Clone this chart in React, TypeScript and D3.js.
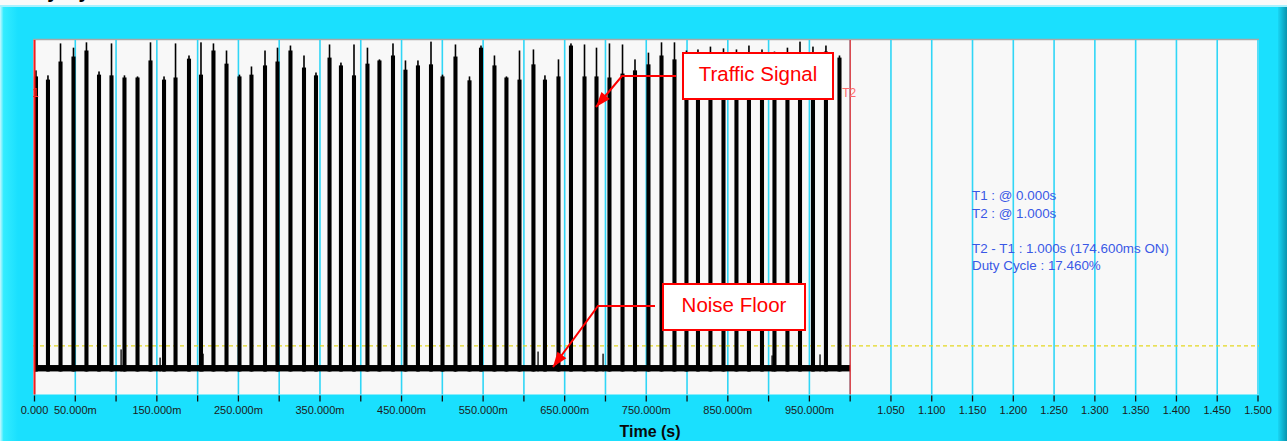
import React from "react";
import * as d3 from "d3";

// ---- data ----
const pulseTimesMs = [
  1.8, 16.5, 31.9, 47.8, 63.7, 79.1, 94.4, 110.3, 126.3, 142.2, 158.8, 172.9, 189.4, 204.1, 219.4, 235.4,
  251.3, 266.0, 282.6, 297.9, 313.8, 330.4, 345.1, 361.7, 375.7, 391.7, 408.2, 422.9, 439.5, 454.8, 470.1, 486.1,
  500.2, 516.1, 533.3, 547.4, 563.9, 578.6, 594.6, 611.7, 625.8, 642.4, 657.7, 674.3, 689.0, 704.9, 720.9, 736.2,
  752.7, 768.7, 784.6, 799.3, 813.4, 828.7, 844.7, 860.6, 875.9, 891.9, 907.2, 923.1, 938.5, 954.4, 970.3, 986.9,
];
const pulsePeak = [
  91.3, 89.9, 98.9, 97.7, 99.2, 91.0, 98.9, 89.9, 89.6, 99.2, 89.6, 98.9, 95.5, 99.2, 98.9, 96.9,
  90.1, 92.4, 96.9, 97.7, 98.3, 95.5, 90.7, 98.6, 93.5, 98.6, 97.7, 94.4, 98.9, 94.1, 94.1, 99.4,
  90.1, 98.6, 89.6, 98.3, 95.5, 89.6, 96.9, 97.2, 89.9, 94.4, 98.9, 98.6, 97.7, 98.9, 98.6, 94.4,
  96.3, 99.2, 99.2, 96.9, 97.2, 98.0, 97.5, 97.2, 98.3, 97.2, 96.6, 97.7, 99.4, 98.0, 98.3, 95.5,
];
const pulseBody = [
  89.6, 88.7, 93.8, 95.2, 96.9, 90.1, 89.9, 89.3, 89.3, 94.1, 88.7, 89.3, 94.6, 90.1, 96.9, 93.2,
  89.6, 90.1, 92.7, 93.8, 96.9, 92.1, 89.9, 94.9, 92.7, 89.9, 93.2, 94.1, 95.5, 91.5, 92.7, 93.0,
  89.6, 95.2, 88.5, 97.7, 92.7, 89.3, 88.7, 93.0, 88.7, 89.6, 98.3, 89.6, 89.6, 89.3, 90.4, 91.3,
  93.0, 95.5, 94.4, 93.8, 91.5, 94.4, 91.0, 94.9, 90.1, 93.2, 91.5, 93.8, 95.8, 92.1, 96.6, 94.9,
];
const pulseWidthMs = 5.0;
const noiseSpikeTimesMs = [106.1, 153.9, 206.6, 515.6, 617.3, 697.0, 904.2, 963.0];
const noiseSpikeLevels = [12.7, 10.4, 11.5, 9.9, 12.1, 11.5, 11.0, 11.3];
const noiseFloorLow = 6.5;
const noiseFloorHigh = 8.3;
const thresholdLevel = 13.7;
const cursorT1 = 0.0;
const cursorT2 = 1.0;
const tickLabels = [
  "0.000", "50.000m", "", "150.000m", "", "250.000m", "", "350.000m", "", "450.000m", "",
  "550.000m", "", "650.000m", "", "750.000m", "", "850.000m", "", "950.000m", "",
  "1.050", "1.100", "1.150", "1.200", "1.250", "1.300", "1.350", "1.400", "1.450", "1.500",
];
const infoLines = [
  "T1 : @ 0.000s",
  "T2 : @ 1.000s",
  "",
  "T2 - T1 : 1.000s (174.600ms ON)",
  "Duty Cycle : 17.460%",
];

const W = 1287;
const H = 441;
const FONT = "'Liberation Sans', Arial, sans-serif";

export default function App() {
  const x = d3.scaleLinear().domain([0, 1.5]).range([34.5, 1258]);
  const y = d3.scaleLinear().domain([0, 100]).range([394.5, 39.5]);
  const tickStep = 0.05;
  const ticks = tickLabels.map((_, i) => i * tickStep);
  const pw = x(pulseWidthMs / 1000) - x(0);
  const floorY = y(noiseFloorLow);

  const arrow = (pts: [number, number][]) => {
    const line = d3.line()(pts) as string;
    const [tx, ty] = pts[pts.length - 1];
    const [px, py] = pts[pts.length - 2];
    const ang = Math.atan2(ty - py, tx - px);
    const L = 15, hw = 5.5;
    const bx = tx - L * Math.cos(ang), by = ty - L * Math.sin(ang);
    const head = [
      [tx, ty],
      [bx + hw * Math.sin(ang), by - hw * Math.cos(ang)],
      [bx - hw * Math.sin(ang), by + hw * Math.cos(ang)],
    ];
    return (
      <g>
        <path d={line} fill="none" stroke="#ff0000" strokeWidth={2} />
        <path d={d3.line()(head as [number, number][]) + "Z"} fill="#ff0000" />
      </g>
    );
  };

  return (
    <svg width={W} height={H} style={{ position: "absolute", left: 0, top: 0, fontFamily: FONT }}>
      <defs>
        <linearGradient id="leftEdge" x1="0" x2="1" y1="0" y2="0">
          <stop offset="0" stopColor="#c8f8ff" />
          <stop offset="0.2" stopColor="#34ecff" />
          <stop offset="1" stopColor="#1ae0fe" />
        </linearGradient>
        <linearGradient id="rightEdge" x1="0" x2="1" y1="0" y2="0">
          <stop offset="0" stopColor="#18d6f4" />
          <stop offset="1" stopColor="#0a94ae" />
        </linearGradient>
        <clipPath id="plotClip">
          <rect x={33} y={39.5} width={1226} height={355} />
        </clipPath>
      </defs>
      {/* background panel */}
      <rect x={0} y={0} width={W} height={H} fill="#fafafa" />
      <text x={14} y={-2.5} fontSize={20} fontWeight="bold" fill="#000">Duty Cycle</text>
      <rect x={0} y={5} width={W} height={H - 5} fill="#a8f2ff" />
      <rect x={0} y={7} width={W} height={H - 7} fill="#1ae0fe" />
      <rect x={0} y={7} width={18} height={H - 7} fill="url(#leftEdge)" />
      <rect x={1278} y={7} width={9} height={H - 7} fill="url(#rightEdge)" />

      {/* plot area */}
      <rect x={33} y={39.5} width={1226} height={355} fill="#f8f8f8" />
      <line x1={33} x2={1259} y1={39.5} y2={39.5} stroke="#a8a8a8" strokeWidth={1.5} />

      {/* grid */}
      {ticks.map((t, i) => (
        <line key={"g" + i} x1={x(t)} x2={x(t)} y1={40} y2={394.5} stroke="#30d6f6" strokeWidth={1.6} />
      ))}

      <g clipPath="url(#plotClip)">
        {/* threshold */}
        <line x1={33} x2={1259} y1={y(thresholdLevel)} y2={y(thresholdLevel)} stroke="#e4d820" strokeWidth={1.1} strokeDasharray="4,3" />
        {/* noise floor */}
        <rect x={x(cursorT1)} y={y(noiseFloorHigh)} width={x(cursorT2) - x(cursorT1)} height={y(noiseFloorLow) - y(noiseFloorHigh)} fill="#000" />
        {noiseSpikeTimesMs.map((t, i) => (
          <rect key={"n" + i} x={x(t / 1000) - 0.6} y={y(noiseSpikeLevels[i])} width={1.3} height={floorY - y(noiseSpikeLevels[i])} fill="#000" />
        ))}
        {/* pulses */}
        {pulseTimesMs.map((t, i) => {
          const cx = x(t / 1000);
          return (
            <g key={"p" + i}>
              <rect x={cx - pw / 2} y={y(pulseBody[i])} width={pw} height={floorY - y(pulseBody[i])} fill="#000" />
              <rect x={cx - 0.8} y={y(pulsePeak[i])} width={1.6} height={floorY - y(pulsePeak[i])} fill="#000" />
            </g>
          );
        })}
        {/* cursors */}
        <text x={25} y={97} fontSize={12} fill="#ff3030">T1</text>
      </g>
      <line x1={x(cursorT1)} x2={x(cursorT1)} y1={40} y2={394.5} stroke="#ff1a1a" strokeWidth={2} />
      <line x1={x(cursorT2)} x2={x(cursorT2)} y1={40} y2={394.5} stroke="#ff2a2a" strokeWidth={1.3} />
      <text x={x(cursorT2) - 8} y={97} fontSize={12} fill="#ff6a6a">T2</text>

      {/* info text */}
      {infoLines.map((s, i) => (
        <text key={"i" + i} x={972} y={200 + i * 17.5} fontSize={13.4} fill="#3a58e6">{s}</text>
      ))}

      {/* annotations */}
      {arrow([[676, 76], [622, 76], [596, 107]])}
      <rect x={683} y={53} width={150} height={46} fill="#ffffff" stroke="#ff0000" strokeWidth={2} />
      <text x={758} y={81} fontSize={20.5} fill="#ff0000" textAnchor="middle">Traffic Signal</text>

      {arrow([[655, 306], [598, 306], [553, 367]])}
      <rect x={663} y={284} width={142} height={46} fill="#ffffff" stroke="#ff0000" strokeWidth={2} />
      <text x={734} y={312} fontSize={20.5} fill="#ff0000" textAnchor="middle">Noise Floor</text>

      {/* x axis */}
      {ticks.map((t, i) => (
        <g key={"t" + i}>
          <line x1={x(t)} x2={x(t)} y1={395.5} y2={401.5} stroke="#111" strokeWidth={1.3} />
          {tickLabels[i] && (
            <text x={x(t)} y={413.5} fontSize={11} fill="#1a1a1a" textAnchor="middle">{tickLabels[i]}</text>
          )}
        </g>
      ))}
      <text x={650} y={437} fontSize={16} fontWeight="bold" fill="#0a0a0a" textAnchor="middle">Time (s)</text>
    </svg>
  );
}
